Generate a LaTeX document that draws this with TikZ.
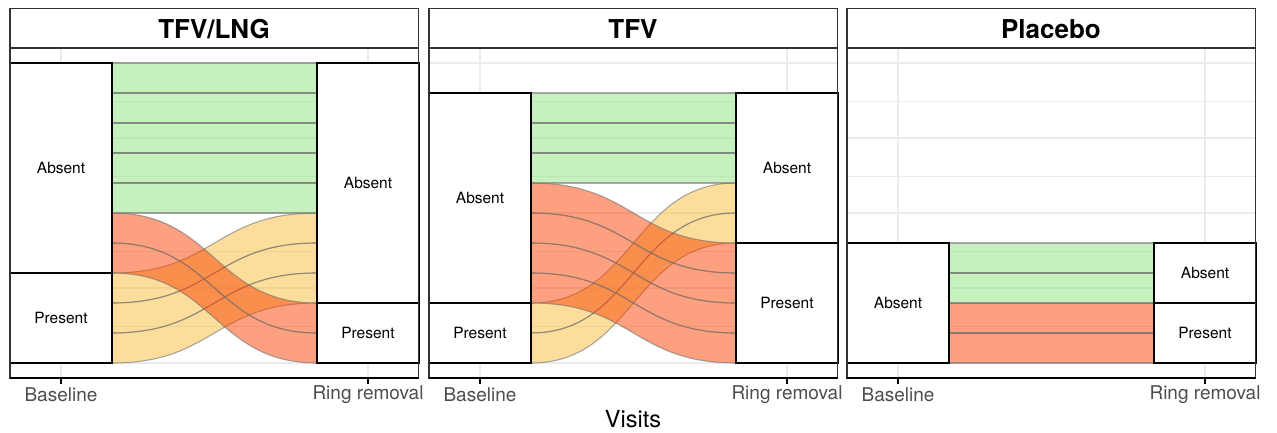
\documentclass[tikz,border=0pt]{standalone}
\usepackage{fontspec}
\setmainfont{TeX Gyre Heros}
\usepackage{tikz}

% fill colours of the flows (seen at half opacity)
\definecolor{stayA}{RGB}{143,225,127}
\definecolor{toP}{RGB}{249,65,1}
\definecolor{toA}{RGB}{251,187,55}
\definecolor{gridgray}{RGB}{235,235,235}
\definecolor{ticktext}{RGB}{77,77,77}

\tikzset{
    stratum/.style={draw=black, line width=1.4pt, fill=white, rectangle,
        inner sep=0pt, minimum width=102pt, font=\fontsize{15.5}{18}\selectfont},
    band/.style={fill opacity=.5, draw=black!55, draw opacity=.6, line width=1.1pt},
    panelframe/.style={draw=black!80, line width=1.1pt},
    striptext/.style={font=\fontsize{26}{30}\selectfont\bfseries},
    ticklabel/.style={text=ticktext, font=\fontsize{19}{22}\selectfont}
}

% one ribbon: x offset, top at left, top at right, colour
\newcommand{\flowband}[4]{%
    \path[band, fill=#4]
        ({112+#1},{363-30*#2}) .. controls ({214.5+#1},{363-30*#2}) and ({214.5+#1},{363-30*#3}) ..
        ({317+#1},{363-30*#3}) -- ({317+#1},{393-30*#3})
        .. controls ({214.5+#1},{393-30*#3}) and ({214.5+#1},{393-30*#2}) ..
        ({112+#1},{393-30*#2}) -- cycle;}

% one stratum box: name, x centre, top, bottom, label
\newcommand{\stratumbox}[5]{%
    \node[stratum, minimum height={30*(#3-#4)}] (#1) at ({#2},{363-15*(#3+#4)}) {#5};}

\begin{document}
\begin{tikzpicture}[x=1pt,y=-1pt]
    \useasboundingbox (0,0) rectangle (1277,433);

    % panels: offset / strip title
    \foreach \ox/\ttl [count=\k] in {0/TFV\slash LNG, 419/TFV, 837/Placebo} {
        % strip
        \draw[panelframe] ({10+\ox},8.5) rectangle ({418.5+\ox},48);
        \node[striptext] (strip\k) at ({214+\ox},29) {\ttl};
        % grid
        \foreach \gy in {63,138,213,288,363}
            \draw[gridgray, line width=1.3pt] ({10+\ox},\gy) -- ({418.5+\ox},\gy);
        \foreach \gy in {101,176,251,326}
            \draw[gridgray, line width=.7pt] ({10+\ox},\gy) -- ({418.5+\ox},\gy);
        \foreach \gx in {61,368}
            \draw[gridgray, line width=1.3pt] ({\gx+\ox},48) -- ({\gx+\ox},378);
    }

    % TFV/LNG flows
    \foreach \l/\r in {3/5, 2/4, 1/3} {\flowband{0}{\l}{\r}{toA}}
    \foreach \l/\r in {5/2, 4/1} {\flowband{0}{\l}{\r}{toP}}
    \foreach \l in {10,9,8,7,6} {\flowband{0}{\l}{\l}{stayA}}

    % TFV flows
    \foreach \l/\r in {2/6, 1/5} {\flowband{419}{\l}{\r}{toA}}
    \foreach \l/\r in {6/4, 5/3, 4/2, 3/1} {\flowband{419}{\l}{\r}{toP}}
    \foreach \l in {9,8,7} {\flowband{419}{\l}{\l}{stayA}}

    % Placebo flows
    \foreach \l in {2,1} {\flowband{837}{\l}{\l}{toP}}
    \foreach \l in {4,3} {\flowband{837}{\l}{\l}{stayA}}

    % strata
    \stratumbox{lngBaseAbs}{61}{10}{3}{Absent}
    \stratumbox{lngBasePre}{61}{3}{0}{Present}
    \stratumbox{lngRingAbs}{368}{10}{2}{Absent}
    \stratumbox{lngRingPre}{368}{2}{0}{Present}
    \stratumbox{tfvBaseAbs}{480}{9}{2}{Absent}
    \stratumbox{tfvBasePre}{480}{2}{0}{Present}
    \stratumbox{tfvRingAbs}{787}{9}{4}{Absent}
    \stratumbox{tfvRingPre}{787}{4}{0}{Present}
    \stratumbox{plaBaseAbs}{898}{4}{0}{Absent}
    \stratumbox{plaRingAbs}{1205}{4}{2}{Absent}
    \stratumbox{plaRingPre}{1205}{2}{0}{Present}

    % frames, x axis and tick labels
    \foreach \ox [count=\k] in {0,419,837} {
        \draw[panelframe] ({10+\ox},48) rectangle ({418.5+\ox},378);
        \draw[black, line width=1.6pt] ({10+\ox},378) -- ({418.5+\ox},378);
        \draw[black, line width=1.2pt] ({61+\ox},378) -- ({61+\ox},384);
        \draw[black, line width=1.2pt] ({368+\ox},378) -- ({368+\ox},384);
        \node[ticklabel] (base\k) at ({61+\ox},395) {Baseline};
        \node[ticklabel] (ring\k) at ({368+\ox},395) {Ring removal};
    }

    \node[font=\fontsize{23.5}{27}\selectfont] (xtitle) at (633,419) {Visits};
\end{tikzpicture}
\end{document}
